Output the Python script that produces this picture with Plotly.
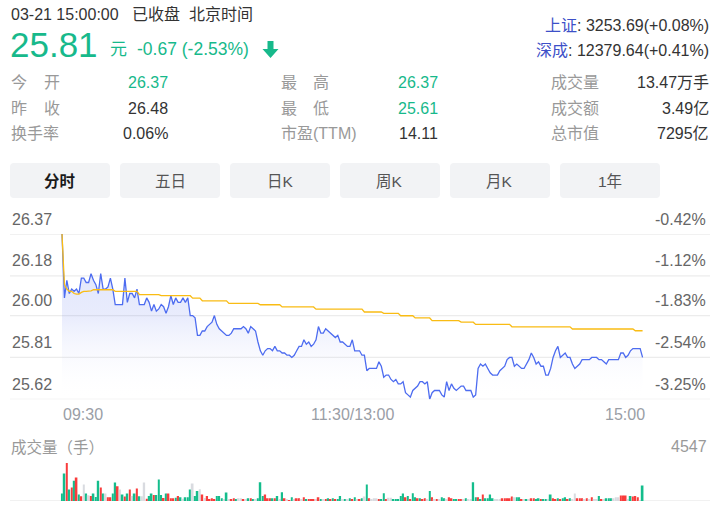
import plotly.graph_objects as go

# ---------------- data ----------------
PRICE_AM = [
    26.37, 26.08, 26.16, 26.10, 26.12, 26.11, 26.12, 26.10, 26.17, 26.17,
    26.15, 26.15, 26.19, 26.16, 26.14, 26.10, 26.19, 26.12, 26.12, 26.13,
    26.17, 26.12, 26.05, 26.05, 26.05, 26.05, 26.17, 26.06, 26.10, 26.10,
    26.08, 26.12, 26.05, 26.05, 26.05, 26.08, 26.06, 26.02, 26.05, 26.02,
    26.03, 26.05, 26.04, 26.01, 26.04, 26.09, 26.05, 26.08, 26.06, 26.06,
    26.08, 26.06, 26.08, 26.00, 26.00, 25.99, 25.91, 25.91, 25.93, 25.93,
    25.95, 25.96, 25.97, 26.00, 25.96, 25.94, 25.93, 25.92, 25.91, 25.91,
    25.92, 25.94, 25.94, 25.94, 25.94, 25.95, 25.94, 25.92, 25.95, 25.94,
    25.93, 25.88, 25.84, 25.82, 25.84, 25.85, 25.85, 25.84, 25.86, 25.84,
    25.84, 25.83, 25.83, 25.82, 25.82, 25.81, 25.82, 25.84, 25.86, 25.86,
    25.89, 25.87, 25.88, 25.86, 25.87, 25.89, 25.95, 25.92, 25.92, 25.94,
    25.93, 25.92, 25.91, 25.90, 25.91, 25.88, 25.88, 25.87, 25.86, 25.86,
    25.89,
]
PRICE_PM = [
    25.84, 25.84, 25.84, 25.82, 25.82, 25.75, 25.76, 25.76, 25.76, 25.76,
    25.79, 25.77, 25.72, 25.73, 25.73, 25.71, 25.70, 25.71, 25.69, 25.69,
    25.70, 25.65, 25.64, 25.63, 25.66, 25.67, 25.68, 25.70, 25.70, 25.69,
    25.70, 25.62, 25.65, 25.66, 25.66, 25.66, 25.64, 25.63, 25.70, 25.66,
    25.69, 25.67, 25.66, 25.67, 25.68, 25.68, 25.66, 25.66, 25.66, 25.63,
    25.64, 25.76, 25.78, 25.77, 25.78, 25.76, 25.74, 25.73, 25.73, 25.73,
    25.75, 25.76, 25.77, 25.80, 25.81, 25.81, 25.77, 25.78, 25.77, 25.76,
    25.76, 25.78, 25.80, 25.83, 25.81, 25.78, 25.79, 25.77, 25.77, 25.73,
    25.73, 25.76, 25.81, 25.84, 25.86, 25.81, 25.82, 25.83, 25.81, 25.81,
    25.78, 25.76, 25.77, 25.78, 25.80, 25.80, 25.80, 25.80, 25.81, 25.81,
    25.81, 25.80, 25.80, 25.79, 25.78, 25.80, 25.80, 25.80, 25.80, 25.80,
    25.83, 25.83, 25.81, 25.82, 25.84, 25.85, 25.85, 25.85, 25.85, 25.81,
]
AVG_PRICE = [
    26.370, 26.140, 26.120, 26.110, 26.110, 26.100, 26.097, 26.097, 26.105, 26.110,
    26.110, 26.110, 26.112, 26.117, 26.117, 26.117, 26.117, 26.117, 26.117, 26.117,
    26.117, 26.117, 26.110, 26.110, 26.110, 26.110, 26.110, 26.110, 26.110, 26.110,
    26.110, 26.110, 26.095, 26.095, 26.095, 26.095, 26.095, 26.095, 26.095, 26.095,
    26.095, 26.090, 26.090, 26.090, 26.090, 26.090, 26.090, 26.090, 26.090, 26.090,
    26.090, 26.090, 26.090, 26.090, 26.079, 26.079, 26.079, 26.079, 26.067, 26.067,
    26.067, 26.067, 26.067, 26.067, 26.067, 26.067, 26.067, 26.067, 26.067, 26.055,
    26.055, 26.055, 26.055, 26.055, 26.055, 26.055, 26.055, 26.055, 26.055, 26.055,
    26.055, 26.055, 26.049, 26.049, 26.049, 26.049, 26.049, 26.049, 26.049, 26.049,
    26.049, 26.039, 26.039, 26.039, 26.039, 26.039, 26.039, 26.039, 26.039, 26.039,
    26.039, 26.039, 26.039, 26.039, 26.039, 26.029, 26.029, 26.029, 26.029, 26.029,
    26.029, 26.029, 26.029, 26.029, 26.029, 26.029, 26.029, 26.029, 26.029, 26.029,
    26.029, 26.029, 26.029, 26.029, 26.029, 26.016, 26.016, 26.016, 26.016, 26.016,
    26.016, 26.016, 26.016, 26.010, 26.010, 26.010, 26.010, 26.010, 26.010, 26.010,
    25.999, 25.999, 25.999, 25.999, 25.999, 25.999, 25.989, 25.989, 25.989, 25.989,
    25.989, 25.989, 25.989, 25.977, 25.977, 25.977, 25.977, 25.977, 25.977, 25.977,
    25.977, 25.977, 25.977, 25.977, 25.977, 25.970, 25.970, 25.970, 25.970, 25.970,
    25.970, 25.960, 25.960, 25.960, 25.960, 25.960, 25.960, 25.960, 25.960, 25.960,
    25.960, 25.960, 25.960, 25.960, 25.960, 25.960, 25.949, 25.949, 25.949, 25.949,
    25.949, 25.949, 25.949, 25.949, 25.949, 25.949, 25.949, 25.949, 25.949, 25.949,
    25.949, 25.949, 25.949, 25.949, 25.949, 25.949, 25.949, 25.949, 25.949, 25.949,
    25.949, 25.939, 25.939, 25.939, 25.939, 25.939, 25.939, 25.939, 25.939, 25.939,
    25.939, 25.939, 25.939, 25.939, 25.939, 25.939, 25.939, 25.939, 25.939, 25.939,
    25.939, 25.939, 25.939, 25.939, 25.939, 25.939, 25.939, 25.931, 25.931, 25.931,
    25.931,
]
VOLUME = [
    885, 3300, 4547, 1370, 1610, 2415, 2815, 765, 565, 1970,
    885, 685, 605, 885, 485, 2415, 1610, 885, 885, 445,
    445, 885, 2215, 1770, 1370, 765, 525, 885, 1370, 605,
    885, 1490, 565, 565, 2215, 280, 605, 885, 725, 725,
    2575, 725, 360, 885, 885, 320, 320, 400, 605, 445,
    280, 445, 445, 1370, 2090, 605, 1205, 1410, 765, 360,
    605, 240, 320, 240, 605, 605, 320, 200, 1005, 240,
    200, 320, 200, 320, 320, 200, 160, 320, 320, 200,
    160, 320, 2255, 605, 765, 320, 320, 320, 320, 605,
    200, 1045, 320, 160, 120, 445, 160, 320, 320, 200,
    445, 240, 200, 200, 200, 160, 445, 200, 160, 240,
    320, 240, 320, 200, 240, 605, 160, 200, 160, 320,
    200, 445, 160, 200, 320, 525, 1970, 320, 160, 320,
    320, 240, 200, 925, 240, 400, 400, 200, 240, 240,
    605, 885, 445, 605, 240, 925, 445, 320, 320, 200,
    320, 160, 1205, 445, 160, 200, 160, 445, 320, 160,
    445, 320, 240, 240, 200, 240, 160, 320, 160, 160,
    2255, 445, 445, 240, 765, 320, 320, 765, 320, 160,
    160, 160, 320, 320, 320, 320, 525, 445, 445, 445,
    240, 160, 240, 160, 320, 320, 240, 320, 240, 240,
    240, 160, 765, 320, 240, 320, 240, 320, 445, 240,
    320, 240, 885, 320, 320, 320, 160, 320, 160, 445,
    160, 160, 605, 240, 160, 320, 320, 320, 320, 445,
    445, 645, 645, 645, 160, 605, 525, 605, 445, 120, 1850,
]
VOL_DIR = (
    "ggrgrgrgrn" "gnrgggrgnr" "rggrngrgrn" "grgnnrggrg" "ggrgrrrgrg"
    "ngggnggnrn" "rrrrgggngn" "rrgnnrngrg" "ngggrrrgrg" "ngrnrgnrrn"
    "rgrrrnrgnr" "grgrggngng" "rgnrgngrnn" "nrggrnnggg" "ggrgrggrgr"
    "rngrnrnggn" "rrggrrngnn" "ggrgrggggn" "nnrrrrrngg" "rngnrrggrg"
    "gngrrgrggr" "gnnrrrnrnr" "nngrngggnn" "nrrrngrrrng"
)
PRICE_TICKS = [26.37, 26.18, 26.00, 25.81, 25.62]
PCT_TICKS = ["-0.42%", "-1.12%", "-1.83%", "-2.54%", "-3.25%"]
TIME_LABELS = ["09:30", "11:30/13:00", "15:00"]
TIME_POS = [0, 120, 240]
TABS = ["分时", "五日", "日K", "周K", "月K", "1年"]
STATS = [
    [("今", "开"), "26.37", "up", ("最", "高"), "26.37", "up", "成交量", "13.47万手", "n"],
    [("昨", "收"), "26.48", "n", ("最", "低"), "25.61", "up", "成交额", "3.49亿", "n"],
    ["换手率", "0.06%", "n", "市盈(TTM)", "14.11", "n", "总市值", "7295亿", "n"],
]
VOL_MAX = 4547

PRICE = PRICE_AM + PRICE_PM
T = list(range(len(PRICE)))
Y_MIN, Y_MAX = PRICE_TICKS[-1], PRICE_TICKS[0]

# ---------------- style ----------------
W, H = 714, 513
FONT = "Arial, 'Liberation Sans', 'Noto Sans CJK SC', sans-serif"
GREEN = "#17b98b"
DARK = "#333333"
LABEL = "#999999"
GRID = "#ececec"
BAR_COL = {"g": "#14bd8c", "r": "#f93c3c", "n": "#d9dbe0"}


def px(x):
    return x / W


def py(y):
    return 1 - y / H


annotations = []
shapes = []


def txt(x, y, s, size=16, color=DARK, anchor="left"):
    annotations.append(dict(
        x=px(x), y=py(y), xref="paper", yref="paper", text=s, showarrow=False,
        xanchor=anchor, yanchor="middle", borderpad=0,
        font=dict(size=size, color=color, family=FONT)))


def rrect(x0, y0, x1, y1, r, fill):
    pts = [
        ("M", [(x0 + r, y0)]), ("L", [(x1 - r, y0)]), ("Q", [(x1, y0), (x1, y0 + r)]),
        ("L", [(x1, y1 - r)]), ("Q", [(x1, y1), (x1 - r, y1)]), ("L", [(x0 + r, y1)]),
        ("Q", [(x0, y1), (x0, y1 - r)]), ("L", [(x0, y0 + r)]), ("Q", [(x0, y0), (x0 + r, y0)]),
    ]
    path = " ".join(cmd + " " + " ".join(f"{px(a):.5f},{py(b):.5f}" for a, b in p) for cmd, p in pts) + " Z"
    shapes.append(dict(type="path", path=path, xref="paper", yref="paper",
                       fillcolor=fill, line=dict(width=0), layer="below"))


# ---------------- header ----------------
txt(10, 14, "03-21 15:00:00", 16)
txt(131, 14, "已收盘", 16)
txt(188, 14, "北京时间", 16)
txt(9, 44, "25.81", 35, GREEN)
txt(109, 49, "元", 17, GREEN)
txt(136, 49, "-0.67 (-2.53%)", 17.5, GREEN)
arrow = [(267.5, 41), (273.5, 41), (273.5, 49), (278.5, 49), (270.5, 58), (262.5, 49), (267.5, 49)]
shapes.append(dict(type="path", xref="paper", yref="paper",
                   path="M " + " L ".join(f"{px(a):.5f},{py(b):.5f}" for a, b in arrow) + " Z",
                   fillcolor=GREEN, line=dict(width=0)))
IDX_BLUE = "#3d50c8"
txt(710, 25, f"<span style='color:{IDX_BLUE}'>上证</span>: 3253.69(+0.08%)", 16, DARK, "right")
txt(710, 51, f"<span style='color:{IDX_BLUE}'>深成</span>: 12379.64(+0.41%)", 16, DARK, "right")

# ---------------- stats table ----------------
ROW_Y = [83, 108, 133]
for row, yy in zip(STATS, ROW_Y):
    l1, v1, c1, l2, v2, c2, l3, v3, c3 = row
    if isinstance(l1, tuple):
        txt(10, yy, l1[0], 16, LABEL)
        txt(43, yy, l1[1], 16, LABEL)
    else:
        txt(10, yy, l1, 16, LABEL)
    txt(169, yy, v1, 16, GREEN if c1 == "up" else DARK, "right")
    if isinstance(l2, tuple):
        txt(280, yy, l2[0], 16, LABEL)
        txt(312, yy, l2[1], 16, LABEL)
    else:
        txt(280, yy, l2, 16, LABEL)
    txt(439, yy, v2, 16, GREEN if c2 == "up" else DARK, "right")
    txt(550, yy, l3, 16, LABEL)
    txt(710, yy, v3, 16, DARK, "right")

# ---------------- tabs ----------------
for i, name in enumerate(TABS):
    x0 = 10 + i * 110
    rrect(x0, 163, x0 + 100, 198, 4, "#f2f3f5")
    if i == 0:
        txt(x0 + 50, 181, f"<b>{name}</b>", 15.5, "#1a1a1a", "center")
    else:
        txt(x0 + 50, 181, name, 15.5, "#555555", "center")

# ---------------- price chart ----------------
fig = go.Figure()
fig.add_trace(go.Scatter(x=T, y=[Y_MIN] * len(T), mode="lines", line=dict(width=0),
                         hoverinfo="skip", showlegend=False))
fig.add_trace(go.Scatter(
    x=T, y=PRICE, mode="lines", line=dict(color="#4d6cf0", width=1.3),
    fill="tonexty",
    fillgradient=dict(type="vertical", start=Y_MIN, stop=Y_MAX,
                      colorscale=[[0, "rgba(255,255,255,0)"], [0.5, "rgba(85,110,235,0.13)"],
                                  [1, "rgba(85,110,235,0.2)"]]),
    showlegend=False))
fig.add_trace(go.Scatter(x=T, y=AVG_PRICE, mode="lines",
                         line=dict(color="#f9bc14", width=1.3), showlegend=False))
fig.add_trace(go.Bar(x=T, y=VOLUME, xaxis="x2", yaxis="y2", width=0.72,
                     marker=dict(color=[BAR_COL[c] for c in VOL_DIR], line=dict(width=0)),
                     showlegend=False))

for p, pct in zip(PRICE_TICKS, PCT_TICKS):
    shapes.append(dict(type="line", xref="paper", yref="y", x0=px(10), x1=px(710), y0=p, y1=p,
                       line=dict(color=GRID, width=1.3), layer="below"))
    annotations.append(dict(x=px(10), y=p, xref="paper", yref="y", text=f"{p:.2f}", showarrow=False,
                            xanchor="left", yanchor="middle", yshift=15,
                            font=dict(size=16, color="#666666", family=FONT)))
    annotations.append(dict(x=px(708), y=p, xref="paper", yref="y", text=pct, showarrow=False,
                            xanchor="right", yanchor="middle", yshift=15,
                            font=dict(size=16, color="#666666", family=FONT)))

for lab, pos, anc in zip(TIME_LABELS, TIME_POS, ["left", "center", "right"]):
    annotations.append(dict(x=pos, y=py(414), xref="x", yref="paper", text=lab, showarrow=False,
                            xanchor=anc, yanchor="middle", xshift={"left": -1, "center": 0, "right": 4}[anc],
                            font=dict(size=16, color="#9a9ea6", family=FONT)))

# volume
shapes.append(dict(type="line", xref="paper", yref="y2", x0=px(10), x1=px(710), y0=0, y1=0,
                   line=dict(color=GRID, width=1.3), layer="below"))
txt(10, 447, "成交量（手）", 15.5, LABEL)
txt(708, 446, str(VOL_MAX), 16, LABEL, "right")

X_RANGE = [-0.5, 241]
fig.update_layout(
    width=W, height=H, margin=dict(l=0, r=0, t=0, b=0),
    paper_bgcolor="white", plot_bgcolor="white", showlegend=False,
    xaxis=dict(domain=[px(60.8), px(645)], range=X_RANGE, visible=False, fixedrange=True),
    yaxis=dict(domain=[py(399.3), py(234)], range=[Y_MIN, Y_MAX], visible=False),
    xaxis2=dict(domain=[px(60.8), px(645)], range=X_RANGE, visible=False, anchor="y2"),
    yaxis2=dict(domain=[py(501), py(463)], range=[0, VOL_MAX], visible=False, anchor="x2"),
    annotations=annotations, shapes=shapes,
    font=dict(family=FONT),
)
fig.write_html("out.html")
